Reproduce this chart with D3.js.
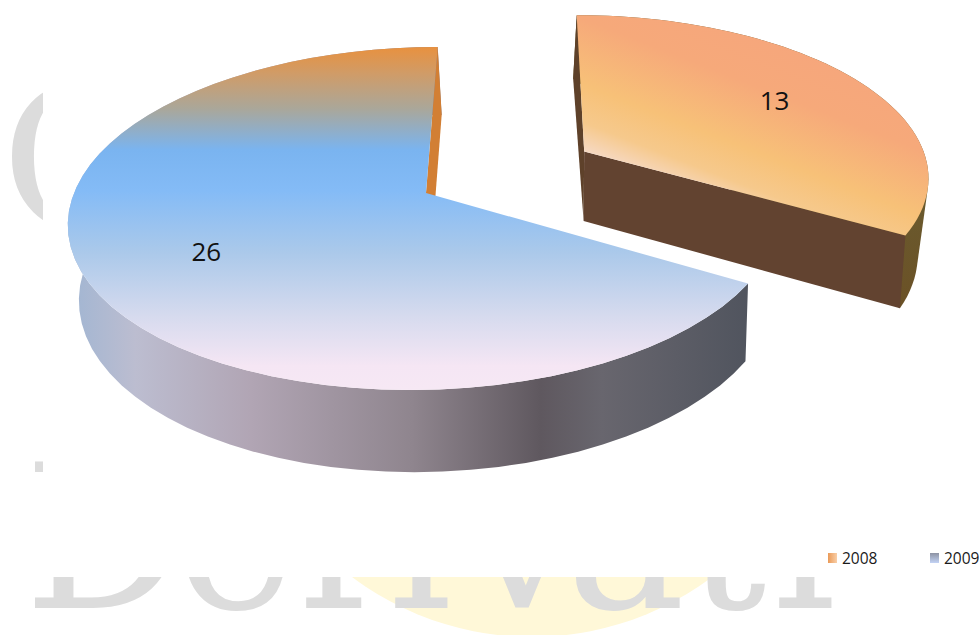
<!DOCTYPE html>
<html><head><meta charset="utf-8">
<script src="https://cdn.jsdelivr.net/npm/d3@7/dist/d3.min.js"></script>
<style>html,body{margin:0;padding:0;background:#fff}svg{display:block}</style>
</head><body><svg id="c" width="980" height="635"></svg>
<script>
const categories = ["2008", "2009"];
const values = [13, 26];
const explode = [0.5, 0];
const watermarkWord = "Derivati";
const watermarkInitial = "C";

const svg = d3.select("#c"), defs = svg.append("defs");
const W = 980, H = 635;
const cx = 426, cy = 193, R = 352, K = 167.7, K2 = 174.7, D = 6.73, SKEW = 0.08, DEPTH = 74, SHIFT = 4, TAPER = 0.98;

// watermark, mostly covered by the chart's white plate
defs.append("clipPath").attr("id","wm").selectAll("rect")
  .data([[0,0,43,W],[0,577,W,H]]).join("rect")
  .attr("x",d=>d[0]).attr("y",d=>d[1]).attr("width",d=>d[2]).attr("height",d=>d[3]);
const wm = svg.append("g").attr("clip-path","url(#wm)");
wm.append("circle").attr("cx",532).attr("cy",337).attr("r",300).attr("fill","#fff8d8");
const wmX = [24,176,298,388,466,566,686,772];
wm.append("text").attr("font-family","'DejaVu Serif'").attr("font-size",200).attr("fill","#dcdcdc")
  .attr("x",wmX.join(" ")).attr("y",608).text(watermarkWord);
wm.append("text").attr("x",1).attr("y",228).attr("font-family","'DejaVu Serif'").attr("font-size",196).attr("fill","#dcdcdc").text(watermarkInitial);

function gradient(id,x1,y1,x2,y2,stops,box){
  const g = defs.append("linearGradient").attr("id",id).attr("gradientUnits",box?"objectBoundingBox":"userSpaceOnUse")
    .attr("x1",x1).attr("y1",y1).attr("x2",x2).attr("y2",y2);
  g.selectAll("stop").data(stops).join("stop").attr("offset",d=>d[0]).attr("stop-color",d=>d[1]);
}
gradient("topBlue",0,47,0,390,[[0,"#e8913f"],[.08,"#cf9c69"],[.18,"#aaa79a"],[.3,"#7ab4f0"],[.42,"#84bbf6"],[.6,"#abc9ea"],[.78,"#d5daee"],[.93,"#f5e6f4"],[1,"#f6e8f4"]]);
gradient("wallBlue",75,0,750,0,[[0,"#a3b6d2"],[.09,"#bcbdd0"],[.26,"#b1a5b4"],[.5,"#8f858e"],[.69,"#5f585f"],[.78,"#68666e"],[1,"#50545e"]]);
gradient("topOrange",710,10,640,190,[[0,"#f6a67c"],[.3,"#f6a97a"],[.62,"#f7c178"],[.8,"#f6c98c"],[1,"#f6e0dc"]]);
gradient("wallOlive",900,200,930,300,[[0,"#6a5a2e"],[1,"#6b5126"]]);
gradient("sw1",0,0,1,0,[[0,"#ea9a58"],[1,"#f9cfa8"]],true);
gradient("sw2",0,0,0,1,[[0,"#8d93a3"],[1,"#c3d3f5"]],true);

const pie = d3.pie().sort(null).startAngle(0).endAngle(2*Math.PI);
const arcs = pie(values);
const line = d3.line();

function project(X,Z,bottom,lean,lift){
  const s = D/(D+Z);
  if(!bottom) return [cx + X*R*s + Z*K*s*SKEW, cy - Z*K*s];
  return [cx + SHIFT + X*R*s*TAPER + Z*K*s*SKEW - (lean||0)*(Z+0.25), cy + DEPTH - (lift||0) - Z*K2*s];
}
function rim(a0,a1,e,mid,bottom,inset,lean,lift){
  const ex = e*Math.sin(mid), ez = e*Math.cos(mid);
  return d3.range(0,61).map(i=>{
    const t=i/60, a=a0+(a1-a0)*t, r=1-inset*Math.sin(Math.PI*t);
    return project(ex+r*Math.sin(a),ez+r*Math.cos(a),bottom,lean,lift);
  });
}
function sliceParts(d,i){
  const e = explode[i], mid=(d.startAngle+d.endAngle)/2;
  const ex=e*Math.sin(mid), ez=e*Math.cos(mid), lean=e?3.3:0, lift=e?3:0;
  return {top0:project(ex,ez,false), bot0:project(ex,ez,true,lean,lift),
    topRim:rim(d.startAngle,d.endAngle,e,mid,false,0),
    botRim:rim(d.startAngle,d.endAngle,e,mid,true,e?0.023:0,lean,lift)};
}
function radialWall(p,atStart){
  const t = atStart?p.topRim[0]:p.topRim[60], b = atStart?p.botRim[0]:p.botRim[60];
  return line([p.top0,t,b,p.bot0])+"Z";
}
const g = svg.append("g");
// 2009
{
  const p = sliceParts(arcs[1],1);
  g.append("path").attr("d",line(p.topRim.concat(p.botRim.slice().reverse()))+"Z").attr("fill","url(#wallBlue)");
  g.append("path").attr("d",radialWall(p,false)).attr("fill","#d27f34");
  g.append("path").attr("d",line([p.top0].concat(p.topRim))+"Z").attr("fill","url(#topBlue)");
}
// 2008
const g8 = g.append("g").attr("transform","translate(8,-1)");
{
  const p = sliceParts(arcs[0],0);
  g8.append("path").attr("d",line(d3.polygonHull(p.topRim.concat(p.botRim)))+"Z").attr("fill","url(#wallOlive)");
  g8.append("path").attr("d",radialWall(p,true)).attr("fill","#5e412a");
  g8.append("path").attr("d",radialWall(p,false)).attr("fill","#624330");
  g8.append("path").attr("d",line([p.top0].concat(p.topRim))+"Z").attr("fill","url(#topOrange)");
}
// data labels
const labelR = [0.69, 0.67];
function lab(d,i){
  const mid=(d.startAngle+d.endAngle)/2, r=explode[i]+labelR[i], pt=project(r*Math.sin(mid),r*Math.cos(mid),false);
  return [pt[0]+(explode[i]?8:0), pt[1]];
}
g.selectAll("text.v").data(arcs).join("text").attr("class","v")
  .attr("font-family","'Open Sans'").attr("font-size",26).attr("fill","#111").attr("text-anchor","middle")
  .attr("x",(d,i)=>lab(d,i)[0]).attr("y",(d,i)=>lab(d,i)[1]+9).text(d=>d.value);
// legend
const legX = d3.scaleOrdinal().domain(categories).range([828,930]);
const leg = svg.append("g").selectAll("g").data(categories).join("g").attr("transform",d=>`translate(${legX(d)},553)`);
leg.append("rect").attr("width",9).attr("height",10).attr("fill",(d,i)=>`url(#sw${i+1})`);
leg.append("text").attr("x",14).attr("y",11).attr("font-family","'Open Sans'").attr("font-size",15.5).attr("fill","#1a1a1a").text(d=>d);
</script></body></html>
